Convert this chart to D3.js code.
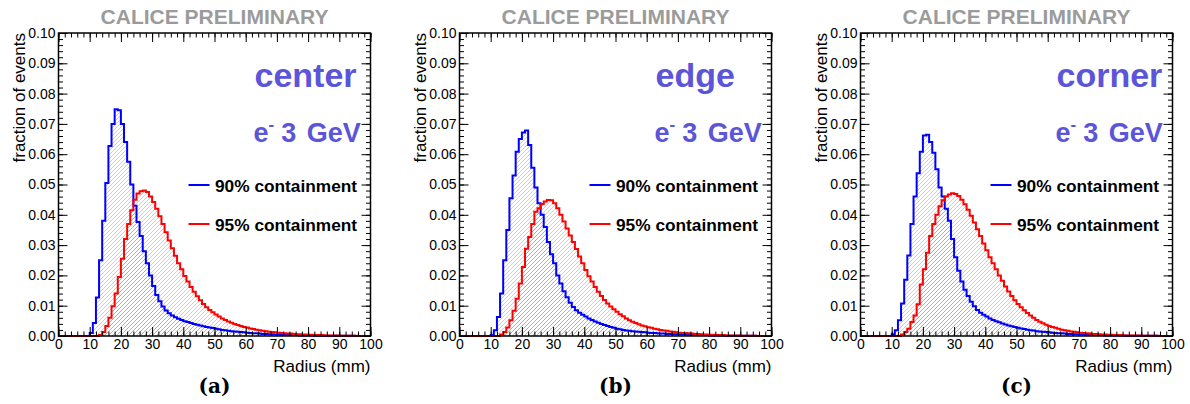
<!DOCTYPE html>
<html>
<head>
<meta charset="utf-8">
<script src="https://cdn.jsdelivr.net/npm/d3@7"></script>
<style>
  body { margin: 0; background: #fff; }
  svg { display: block; font-family: "Liberation Sans", Arial, Helvetica, sans-serif; }
</style>
</head>
<body>
<svg id="chart" width="1190" height="404"></svg>
<script>
// fraction of events per 1 mm radius bin, 0..100 mm (100 bins)
const center90 = [
  0,0,0,0,0,0,0,0,0,0,
  0.001,0.0043,0.0127,0.025,0.038,0.0505,0.0627,0.070,0.0748,0.0745,
  0.070,0.064,0.0575,0.050,0.043,0.0376,0.033,0.028,0.024,0.020,
  0.0165,0.0135,0.0115,0.0097,0.0084,0.0075,0.0068,0.0062,0.0057,0.0053,
  0.0049,0.0046,0.0043,0.004,0.0037,0.0035,0.0032,0.003,0.0028,0.0026,
  0.0024,0.0022,0.002,0.0019,0.0017,0.0016,0.0015,0.0014,0.0013,0.0012,
  0.0011,0.001,0.0009,0.0009,0.0008,0.0007,0.0007,0.0006,0.0006,0.0005,
  0.0005,0.0004,0.0004,0.0004,0.0003,0.0003,0.0003,0.0002,0.0002,0.0002,
  0.0002,0.0002,0.0001,0.0001,0.0001,0.0001,0.0001,0.0001,0.0001,0.0001,
  0.0001,0.0001,0.0001,0.0001,0.0001,0,0,0,0,0
];
const center95 = [
  0,0,0,0,0,0,0,0,0,0,
  0,0,0,0.0003,0.0013,0.0033,0.006,0.0098,0.014,0.0195,
  0.0255,0.032,0.037,0.0415,0.045,0.047,0.0478,0.048,0.0475,0.046,
  0.0442,0.042,0.0395,0.037,0.0342,0.0315,0.029,0.0265,0.024,0.022,
  0.0198,0.018,0.0162,0.0146,0.0131,0.0118,0.0106,0.0095,0.0086,0.0078,
  0.0071,0.0064,0.0058,0.0053,0.0048,0.0044,0.004,0.0036,0.0033,0.003,
  0.0028,0.0025,0.0023,0.0021,0.0019,0.0017,0.0016,0.0014,0.0013,0.0012,
  0.0011,0.001,0.0009,0.0008,0.0008,0.0007,0.0006,0.0006,0.0005,0.0005,
  0.0004,0.0004,0.0003,0.0003,0.0003,0.0002,0.0002,0.0002,0.0002,0.0002,
  0.0001,0.0001,0.0001,0.0001,0.0001,0.0001,0,0,0,0
];
const edge90 = [
  0,0,0,0,0,0,0,0,0,0,
  0.0003,0.0019,0.0063,0.014,0.025,0.035,0.0455,0.053,0.0608,0.065,
  0.0672,0.0678,0.063,0.0555,0.049,0.0438,0.040,0.036,0.031,0.027,
  0.024,0.020,0.0173,0.0148,0.0128,0.011,0.0096,0.0085,0.0077,0.007,
  0.0064,0.0058,0.0053,0.0048,0.0044,0.004,0.0036,0.0033,0.003,0.0027,
  0.0024,0.0022,0.002,0.0018,0.0017,0.0016,0.0015,0.0014,0.0013,0.0012,
  0.0011,0.001,0.001,0.0009,0.0008,0.0008,0.0007,0.0007,0.0006,0.0006,
  0.0005,0.0005,0.0004,0.0004,0.0004,0.0003,0.0003,0.0003,0.0003,0.0003,
  0.0002,0.0002,0.0002,0.0002,0.0002,0.0001,0.0001,0.0001,0.0001,0.0001,
  0.0001,0.0001,0.0001,0.0001,0.0001,0,0,0,0,0
];
const edge95 = [
  0,0,0,0,0,0,0,0,0,0,
  0,0,0,0.0005,0.0013,0.0028,0.0052,0.0083,0.0123,0.0173,
  0.0228,0.0288,0.0327,0.037,0.041,0.0422,0.0436,0.0444,0.0449,0.0448,
  0.0438,0.0422,0.040,0.0378,0.0355,0.0332,0.031,0.0287,0.0262,0.024,
  0.0218,0.0197,0.018,0.0162,0.0146,0.0132,0.0119,0.0107,0.0097,0.0088,
  0.008,0.0072,0.0065,0.0058,0.0052,0.0047,0.0043,0.0039,0.0035,0.0032,
  0.0029,0.0027,0.0024,0.0022,0.002,0.0018,0.0017,0.0015,0.0014,0.0012,
  0.0011,0.001,0.001,0.0009,0.0008,0.0007,0.0007,0.0006,0.0005,0.0005,
  0.0004,0.0004,0.0003,0.0003,0.0003,0.0002,0.0002,0.0002,0.0002,0.0002,
  0.0001,0.0001,0.0001,0.0001,0.0001,0.0001,0,0,0,0
];
const corner90 = [
  0,0,0,0,0,0,0,0,0,0,
  0.0006,0.0019,0.0052,0.0107,0.0186,0.0266,0.037,0.046,0.0537,0.0608,
  0.0662,0.0664,0.064,0.0605,0.055,0.049,0.046,0.042,0.038,0.032,
  0.026,0.0215,0.018,0.0153,0.0132,0.0113,0.0098,0.0086,0.0077,0.007,
  0.0064,0.0058,0.0053,0.0049,0.0045,0.0041,0.0038,0.0035,0.0032,0.003,
  0.0027,0.0025,0.0023,0.0021,0.0019,0.0018,0.0016,0.0015,0.0014,0.0013,
  0.0012,0.0011,0.001,0.0009,0.0009,0.0008,0.0007,0.0007,0.0006,0.0006,
  0.0005,0.0005,0.0004,0.0004,0.0003,0.0003,0.0003,0.0003,0.0002,0.0002,
  0.0002,0.0002,0.0002,0.0002,0.0002,0.0001,0.0001,0.0001,0.0001,0.0001,
  0.0001,0.0001,0.0001,0.0001,0.0001,0,0,0,0,0
];
const corner95 = [
  0,0,0,0,0,0,0,0,0,0,
  0,0,0,0.0005,0.0013,0.0024,0.0046,0.0068,0.0105,0.017,
  0.022,0.0275,0.033,0.037,0.040,0.0428,0.0448,0.046,0.0467,0.0471,
  0.0469,0.0462,0.045,0.0435,0.0417,0.0397,0.0375,0.0352,0.033,0.0305,
  0.0283,0.026,0.024,0.022,0.020,0.0182,0.0163,0.0147,0.0132,0.0118,
  0.0106,0.0095,0.0085,0.0076,0.0068,0.006,0.0053,0.0047,0.0042,0.0037,
  0.0033,0.003,0.0027,0.0024,0.0021,0.0019,0.0017,0.0015,0.0014,0.0012,
  0.0011,0.001,0.0009,0.0008,0.0007,0.0007,0.0006,0.0005,0.0005,0.0004,
  0.0004,0.0003,0.0003,0.0003,0.0002,0.0002,0.0002,0.0002,0.0002,0.0002,
  0.0001,0.0001,0.0001,0.0001,0.0001,0.0001,0,0,0,0
];

const positions = ["center", "edge", "corner"];
const panelLabels = ["(a)", "(b)", "(c)"];
const legendLabels = ["90% containment", "95% containment"];
const yTickValues = [0, 0.01, 0.02, 0.03, 0.04, 0.05, 0.06, 0.07, 0.08, 0.09, 0.10];
const xTickValues = [0, 10, 20, 30, 40, 50, 60, 70, 80, 90, 100];

const series = [
  [center90, center95],
  [edge90, edge95],
  [corner90, corner95]
];

const svg = d3.select("#chart");
const lineColors = ["#0000ff", "#ff0000"];
const textBlue = "#5b55d8";

const plotW = 312, plotTop = 33, plotBottom = 336;
const panelX = [58.5, 459.5, 860.5];

// hatch used by ROOT-style fill
const defs = svg.append("defs");
defs.append("pattern")
    .attr("id", "hatch")
    .attr("patternUnits", "userSpaceOnUse")
    .attr("width", 4)
    .attr("height", 4)
  .append("path")
    .attr("d", "M-1,1 l2,-2 M0,4 l4,-4 M3,5 l2,-2")
    .attr("stroke", "#e04848")
    .attr("stroke-width", 0.7)
    .attr("stroke-opacity", 0.5);

function drawPanel(i) {
    const x0 = panelX[i];
    const x = d3.scaleLinear().domain([0, 100]).range([x0, x0 + plotW]);
    const y = d3.scaleLinear().domain([0, 0.1]).range([plotBottom, plotTop]);
    const g = svg.append("g").attr("class", "panel");

    const steps = (vals) => vals.map((v, k) => [k, v]).concat([[100, vals[vals.length - 1]]]);

    const area = d3.area()
        .curve(d3.curveStepAfter)
        .x(d => x(d[0]))
        .y0(y(0))
        .y1(d => y(d[1]));
    const line = d3.line()
        .curve(d3.curveStepAfter)
        .x(d => x(d[0]))
        .y(d => y(d[1]));

    series[i].forEach(vals => {
        g.append("path")
            .attr("d", area(steps(vals)))
            .attr("fill", "url(#hatch)");
    });
    series[i].forEach((vals, s) => {
        g.append("path")
            .attr("d", line(steps(vals)))
            .attr("fill", "none")
            .attr("stroke", lineColors[s])
            .attr("stroke-width", 2)
            .attr("stroke-linejoin", "miter");
    });

    // ticks on all four sides, pointing inwards
    const minorX = d3.range(0, 101, 2);
    const minorY = d3.range(0, 0.1001, 0.002);
    const addAxis = (axis, tr) => {
        const a = g.append("g").attr("transform", tr).call(axis);
        a.select(".domain").remove();
        a.selectAll("line").attr("stroke", "#000");
        return a;
    };

    addAxis(d3.axisBottom(x).tickValues(minorX).tickSize(-4.5).tickFormat(""), `translate(0,${plotBottom})`);
    addAxis(d3.axisTop(x).tickValues(minorX).tickSize(-4.5).tickFormat(""), `translate(0,${plotTop})`);
    addAxis(d3.axisTop(x).tickValues(xTickValues).tickSize(-9).tickFormat(""), `translate(0,${plotTop})`);
    addAxis(d3.axisLeft(y).tickValues(minorY).tickSize(-4.5).tickFormat(""), `translate(${x0},0)`);
    addAxis(d3.axisRight(y).tickValues(minorY).tickSize(-4.5).tickFormat(""), `translate(${x0 + plotW},0)`);
    addAxis(d3.axisRight(y).tickValues(yTickValues).tickSize(-9).tickFormat(""), `translate(${x0 + plotW},0)`);

    const xa = addAxis(d3.axisBottom(x).tickValues(xTickValues).tickSize(-9).tickPadding(3).tickFormat(d3.format("d")),
        `translate(0,${plotBottom})`);
    xa.selectAll("text").attr("font-size", 14).attr("fill", "#000")
        .attr("font-family", "'Liberation Sans', Arial, sans-serif");

    const ya = addAxis(d3.axisLeft(y).tickValues(yTickValues).tickSize(-9).tickPadding(3).tickFormat(d3.format(".2f")),
        `translate(${x0},0)`);
    ya.selectAll("text").attr("font-size", 14).attr("fill", "#000")
        .attr("font-family", "'Liberation Sans', Arial, sans-serif");

    // frame
    g.append("rect")
        .attr("x", x0).attr("y", plotTop)
        .attr("width", plotW).attr("height", plotBottom - plotTop)
        .attr("fill", "none").attr("stroke", "#000").attr("stroke-width", 1.5);

    // axis titles
    g.append("text")
        .attr("x", x0 + plotW).attr("y", 372)
        .attr("text-anchor", "end").attr("font-size", 17)
        .text("Radius (mm)");
    g.append("text")
        .attr("transform", `translate(${x0 - 34},${plotTop}) rotate(-90)`)
        .attr("text-anchor", "end").attr("font-size", 17)
        .text("fraction of events");

    // header
    g.append("text")
        .attr("x", x0 + plotW / 2).attr("y", 23.5)
        .attr("text-anchor", "middle").attr("font-size", 21).attr("font-weight", "bold")
        .attr("fill", "#9b9b9b")
        .text("CALICE PRELIMINARY");

    // position + beam labels
    g.append("text")
        .attr("x", x0 + 196).attr("y", 87)
        .attr("font-size", 34).attr("font-weight", "bold").attr("fill", textBlue)
        .text(positions[i]);
    const beam = g.append("text")
        .attr("x", x0 + 195).attr("y", 142)
        .attr("font-size", 27).attr("font-weight", "bold").attr("fill", textBlue);
    beam.append("tspan").text("e");
    beam.append("tspan").attr("dy", -12).attr("font-size", 17).text("-");
    beam.append("tspan").attr("dy", 12).attr("dx", 7).attr("word-spacing", 3).text("3 GeV");

    // legend
    legendLabels.forEach((lab, s) => {
        const ly = 185 + s * 39;
        g.append("line")
            .attr("x1", x0 + 130).attr("x2", x0 + 151)
            .attr("y1", ly).attr("y2", ly)
            .attr("stroke", lineColors[s]).attr("stroke-width", 2);
        g.append("text")
            .attr("x", x0 + 156.5).attr("y", ly + 6.5)
            .attr("font-size", 17.3).attr("font-weight", "bold")
            .text(lab);
    });

    // sub-figure label
    g.append("text")
        .attr("x", x0 + plotW / 2).attr("y", 393)
        .attr("text-anchor", "middle")
        .attr("font-family", "'DejaVu Serif', 'Liberation Serif', serif")
        .attr("font-weight", "bold").attr("font-size", 20)
        .text(panelLabels[i]);
}

positions.forEach((p, i) => drawPanel(i));
</script>
</body>
</html>
